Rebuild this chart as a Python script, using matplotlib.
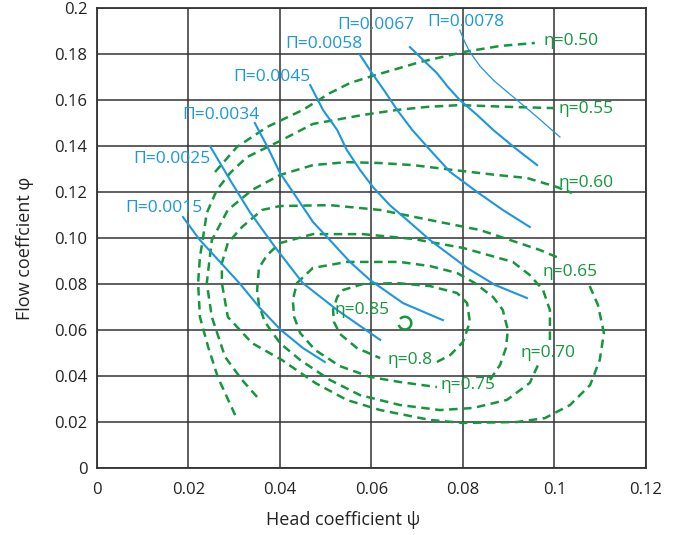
import matplotlib
matplotlib.use('Agg')
import matplotlib.pyplot as plt
from matplotlib.patches import Arc

plt.rcParams['font.family'] = ['Open Sans', 'DejaVu Sans']

# axis ticks
x_ticks = [0, 0.02, 0.04, 0.06, 0.08, 0.1, 0.12]
x_tick_labels = ['0', '0.02', '0.04', '0.06', '0.08', '0.1', '0.12']
y_ticks = [0, 0.02, 0.04, 0.06, 0.08, 0.10, 0.12, 0.14, 0.16, 0.18, 0.2]
y_tick_labels = ['0', '0.02', '0.04', '0.06', '0.08', '0.10', '0.12', '0.14', '0.16', '0.18', '0.2']

# efficiency contours (green dashed)
eta50_x = [0.0258, 0.0306, 0.0372, 0.0450, 0.0509, 0.0553, 0.0601, 0.0706, 0.0802, 0.0881, 0.0957]
eta50_y = [0.1287, 0.1396, 0.1483, 0.1557, 0.1630, 0.1674, 0.1704, 0.1765, 0.1809, 0.1835, 0.1848]

eta55_x = [0.0302, 0.0264, 0.0243, 0.0225, 0.0221, 0.0225, 0.0232, 0.0240, 0.0262, 0.0291, 0.0328,
           0.0400, 0.0472, 0.0581, 0.0656, 0.0721, 0.0793, 0.0903, 0.0997]
eta55_y = [0.0230, 0.0396, 0.0526, 0.0657, 0.0804, 0.0917, 0.1004, 0.1109, 0.1209, 0.1283, 0.1352,
           0.1422, 0.1496, 0.1535, 0.1557, 0.1570, 0.1578, 0.1570, 0.1565]

eta60_x = [0.0350, 0.0317, 0.0280, 0.0251, 0.0240, 0.0251, 0.0286, 0.0339, 0.0400, 0.0472, 0.0546,
           0.0619, 0.0691, 0.0778, 0.0874, 0.0940, 0.1005, 0.1038]
eta60_y = [0.0309, 0.0383, 0.0483, 0.0657, 0.0804, 0.0991, 0.1122, 0.1209, 0.1274, 0.1317, 0.1330,
           0.1326, 0.1317, 0.1296, 0.1274, 0.1261, 0.1222, 0.1196]

eta65_x = [0.1005, 0.0968, 0.0837, 0.0728, 0.0619, 0.0509, 0.0400, 0.0361, 0.0317, 0.0286, 0.0273,
           0.0273, 0.0286, 0.0339, 0.0404, 0.0477, 0.0546, 0.0619, 0.0728, 0.0800, 0.0918, 0.0979,
           0.1034, 0.1078, 0.1099, 0.1108, 0.1095, 0.1073]
eta65_y = [0.0917, 0.0948, 0.1035, 0.1078, 0.1122, 0.1143, 0.1139, 0.1122, 0.1048, 0.0978, 0.0891,
           0.0804, 0.0657, 0.0543, 0.0470, 0.0370, 0.0296, 0.0252, 0.0209, 0.0196, 0.0200, 0.0217,
           0.0274, 0.0361, 0.0470, 0.0587, 0.0709, 0.0809]

eta70_x = [0.0990, 0.0990, 0.0975, 0.0946, 0.0909, 0.0800, 0.0691, 0.0581, 0.0472, 0.0400, 0.0372,
           0.0354, 0.0350, 0.0354, 0.0367, 0.0400, 0.0444, 0.0509, 0.0575, 0.0662, 0.0750, 0.0822,
           0.0896, 0.0946, 0.0964]
eta70_y = [0.0557, 0.0687, 0.0774, 0.0839, 0.0896, 0.0957, 0.0996, 0.1017, 0.1017, 0.0978, 0.0926,
           0.0870, 0.0774, 0.0709, 0.0635, 0.0543, 0.0470, 0.0383, 0.0317, 0.0274, 0.0252, 0.0261,
           0.0296, 0.0370, 0.0448]

eta75_x = [0.0859, 0.0881, 0.0894, 0.0898, 0.0887, 0.0866, 0.0826, 0.0787, 0.0728, 0.0662, 0.0546,
           0.0472, 0.0437, 0.0428, 0.0431, 0.0444, 0.0477, 0.0531, 0.0597, 0.0662, 0.0743]
eta75_y = [0.0383, 0.0448, 0.0522, 0.0600, 0.0687, 0.0743, 0.0804, 0.0848, 0.0878, 0.0896, 0.0896,
           0.0870, 0.0804, 0.0730, 0.0657, 0.0587, 0.0513, 0.0443, 0.0396, 0.0374, 0.0352]

eta80_x = [0.0743, 0.0772, 0.0800, 0.0815, 0.0809, 0.0787, 0.0728, 0.0656, 0.0581, 0.0538, 0.0525,
           0.0516, 0.0518, 0.0531, 0.0568, 0.0619]
eta80_y = [0.0461, 0.0491, 0.0548, 0.0635, 0.0717, 0.0761, 0.0791, 0.0804, 0.0800, 0.0774, 0.0743,
           0.0687, 0.0635, 0.0583, 0.0522, 0.0478]

eta85_center = (0.0673, 0.0630)

# constant-Pi lines (blue)
pi15_x = [0.0188, 0.0225, 0.0269, 0.0313, 0.0356, 0.0402, 0.0450, 0.0498]
pi15_y = [0.1091, 0.0991, 0.0896, 0.0800, 0.0696, 0.0600, 0.0522, 0.0461]

pi25_x = [0.0247, 0.0291, 0.0334, 0.0389, 0.0450, 0.0525, 0.0619]
pi25_y = [0.1400, 0.1252, 0.1113, 0.0961, 0.0804, 0.0687, 0.0557]

pi34_x = [0.0345, 0.0374, 0.0400, 0.0437, 0.0472, 0.0509, 0.0553, 0.0597, 0.0669, 0.0756]
pi34_y = [0.1500, 0.1391, 0.1283, 0.1174, 0.1070, 0.0991, 0.0896, 0.0817, 0.0717, 0.0643]

pi45_x = [0.0466, 0.0494, 0.0525, 0.0546, 0.0575, 0.0603, 0.0640, 0.0678, 0.0728, 0.0809, 0.0870, 0.0940]
pi45_y = [0.1665, 0.1557, 0.1470, 0.1383, 0.1296, 0.1222, 0.1143, 0.1078, 0.0991, 0.0870, 0.0796, 0.0739]

pi58_x = [0.0575, 0.0601, 0.0630, 0.0656, 0.0689, 0.0728, 0.0772, 0.0831, 0.0887, 0.0946]
pi58_y = [0.1796, 0.1717, 0.1635, 0.1557, 0.1470, 0.1383, 0.1287, 0.1200, 0.1122, 0.1048]

pi67_x = [0.0684, 0.0713, 0.0743, 0.0767, 0.0793, 0.0831, 0.0866, 0.0914, 0.0962]
pi67_y = [0.1830, 0.1774, 0.1717, 0.1657, 0.1600, 0.1535, 0.1470, 0.1391, 0.1317]

pi78_x = [0.0793, 0.0804, 0.0815, 0.0837, 0.0866, 0.0892, 0.0918, 0.0962, 0.1012]
pi78_y = [0.1904, 0.1852, 0.1809, 0.1748, 0.1687, 0.1643, 0.1600, 0.1526, 0.1439]

# labels and where they sit
pi_labels = ['\u03a0=0.0015', '\u03a0=0.0025', '\u03a0=0.0034', '\u03a0=0.0045',
             '\u03a0=0.0058', '\u03a0=0.0067', '\u03a0=0.0078']
pi_label_x = [0.0061, 0.0079, 0.0186, 0.0297, 0.0411, 0.0525, 0.0721]
pi_label_y = [0.1130, 0.1343, 0.1535, 0.1700, 0.1843, 0.1926, 0.1939]

eta_labels = ['\u03b7=0.50', '\u03b7=0.55', '\u03b7=0.60', '\u03b7=0.65',
              '\u03b7=0.70', '\u03b7=0.75', '\u03b7=0.8', '\u03b7=0.85']
eta_label_x = [0.0975, 0.1008, 0.1008, 0.0973, 0.0925, 0.0750, 0.0634, 0.0520]
eta_label_y = [0.1857, 0.1561, 0.1239, 0.0852, 0.0500, 0.0361, 0.0470, 0.0687]

green = '#14963c'
blue = '#1c97dc'

fig = plt.figure(figsize=(6.82, 5.35), dpi=100)
ax = fig.add_axes([0.1422, 0.1252, 0.805, 0.8598])

ax.set_xlim(0, 0.12)
ax.set_ylim(0, 0.2)
ax.set_xticks(x_ticks)
ax.set_xticklabels(x_tick_labels)
ax.set_yticks(y_ticks)
ax.set_yticklabels(y_tick_labels)
ax.tick_params(length=0, labelsize=12, colors='#222222')
ax.tick_params(axis='x', pad=10)
ax.tick_params(axis='y', pad=7)
ax.grid(True, color='#333333', linewidth=1.1)
ax.set_axisbelow(True)
for s in ax.spines.values():
    s.set_color('#333333')
    s.set_linewidth(1.3)

eta_curves = [(eta50_x, eta50_y), (eta55_x, eta55_y), (eta60_x, eta60_y), (eta65_x, eta65_y),
              (eta70_x, eta70_y), (eta75_x, eta75_y), (eta80_x, eta80_y)]
for cx, cy in eta_curves:
    ax.plot(cx, cy, color=green, linewidth=1.8, dashes=(3.4, 2.2),
            dash_joinstyle='round', dash_capstyle='butt')

ax.add_patch(Arc(eta85_center, 0.0028, 0.0055, theta1=-150, theta2=120,
                 color=green, linewidth=1.8))

pi_curves = [(pi15_x, pi15_y), (pi25_x, pi25_y), (pi34_x, pi34_y), (pi45_x, pi45_y),
             (pi58_x, pi58_y), (pi67_x, pi67_y), (pi78_x, pi78_y)]
for i, (cx, cy) in enumerate(pi_curves):
    lw = 0.9 if i == len(pi_curves) - 1 else 1.5
    ax.plot(cx, cy, color=blue, linewidth=lw, solid_joinstyle='round')

for t, lx, ly in zip(pi_labels, pi_label_x, pi_label_y):
    ax.text(lx, ly, t, color=blue, fontsize=12.5, ha='left', va='center')

for t, lx, ly in zip(eta_labels, eta_label_x, eta_label_y):
    ax.text(lx, ly, t, color=green, fontsize=12.5, ha='left', va='center')

ax.set_xlabel('Head coefficient \u03c8', fontsize=13, color='#222222', va='center')
ax.xaxis.set_label_coords(0.448, -0.113)
ax.set_ylabel('Flow coeffcient \u03c6', fontsize=13, color='#222222', va='center')
ax.yaxis.set_label_coords(-0.131, 0.478)

fig.savefig('out.png', dpi=100)
